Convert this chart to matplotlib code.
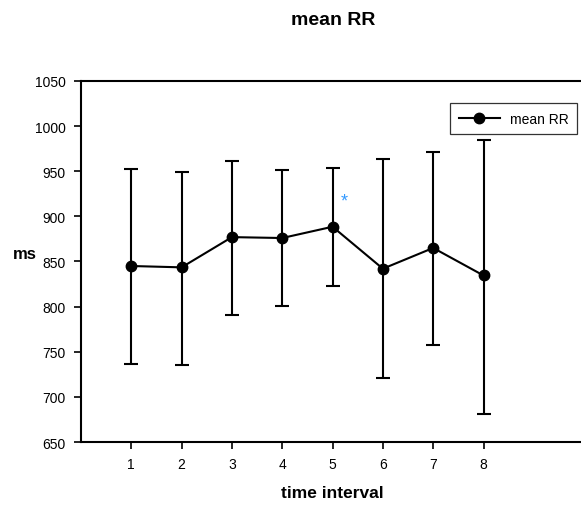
import matplotlib
matplotlib.use("Agg")
import matplotlib.pyplot as plt
from matplotlib.lines import Line2D
import numpy as np

plt.rcParams['font.family'] = ['Liberation Sans', 'DejaVu Sans']

intervals = [1, 2, 3, 4, 5, 6, 7, 8]
mean_rr = [845, 843.5, 877, 876, 888.5, 842, 865, 834.5]
upper = [953, 949.5, 961.5, 951.5, 954, 964, 971, 985]
lower = [736.5, 735, 791, 800.5, 822.5, 720.5, 757, 681.5]

mean_rr = np.array(mean_rr)
err = [mean_rr - np.array(lower), np.array(upper) - mean_rr]

fig = plt.figure(figsize=(5.81, 5.06), dpi=100)
ax = fig.add_axes([0.1394, 0.1245, 0.866, 0.7135])

ax.errorbar(intervals, mean_rr, yerr=err, color='black', lw=1.5,
            marker='o', ms=7.5, capsize=5, capthick=1.5, elinewidth=1.5)
ax.text(5.23, 917, '*', color='#3399ff', fontsize=13, ha='center', va='center')

ax.set_xlim(0, 10)
ax.set_ylim(650, 1050)
ax.set_xticks(intervals)
ax.set_yticks(np.arange(650, 1051, 50))
ax.tick_params(direction='out', length=5, width=1.2, labelsize=10, pad=6)
for s in ax.spines.values():
    s.set_linewidth(1.5)

handle = Line2D([], [], color='black', lw=1.5, marker='o', ms=7.5)
leg = ax.legend([handle], ['mean RR'], loc='upper right',
                bbox_to_anchor=(0.986, 0.938), frameon=True,
                fancybox=False, edgecolor='black', fontsize=10,
                handlelength=3.0, borderpad=0.6, handletextpad=0.7,
                borderaxespad=0)
leg.get_frame().set_linewidth(0.9)

fig.text(0.574, 0.96, 'mean RR', fontsize=14, fontweight='bold', ha='center', va='center')
fig.text(0.043, 0.497, 'ms', fontsize=12, fontweight='bold', ha='center', va='center')
fig.text(0.572, 0.025, 'time interval', fontsize=12.5, fontweight='bold', ha='center', va='center')

fig.savefig('out.png', dpi=100)
